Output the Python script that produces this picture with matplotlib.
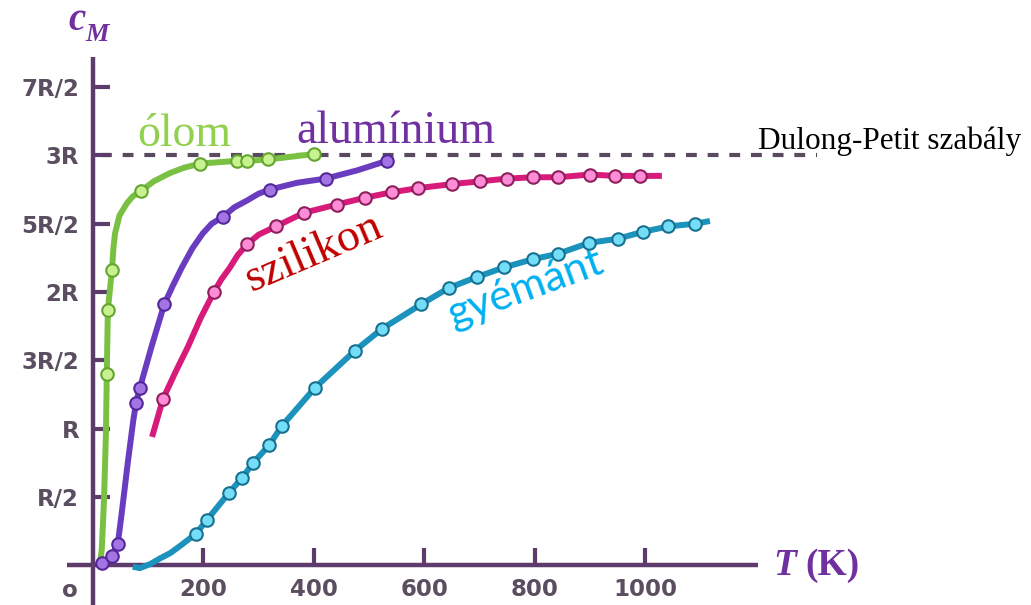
import matplotlib
matplotlib.use('Agg')
import matplotlib.pyplot as plt

# temperatures in K, molar heat capacity in units of R

# olom (lead)
lead_T = [13, 16, 20, 23.5, 25, 27, 31, 34.4, 37, 40, 48, 61.5, 72, 87, 110, 139, 165, 194, 260, 278, 317, 400]
lead_C = [0.02, 0.12, 0.48, 0.97, 1.40, 1.87, 2.03, 2.16, 2.32, 2.43, 2.56, 2.65, 2.70, 2.74, 2.81, 2.87, 2.91, 2.94, 2.96, 2.96, 2.97, 3.01]
lead_pt_T = [25, 27, 34.4, 87, 194, 260, 278, 317, 400]
lead_pt_C = [1.40, 1.87, 2.16, 2.74, 2.94, 2.96, 2.96, 2.97, 3.01]

# aluminium
al_T = [7, 16, 34, 45, 52, 63, 73, 78, 85, 106, 129, 145, 161, 180, 199, 215, 235, 256, 279, 300, 320, 370, 421, 478, 532]
al_C = [0.01, 0.02, 0.07, 0.16, 0.38, 0.75, 1.06, 1.19, 1.30, 1.60, 1.91, 2.05, 2.18, 2.32, 2.43, 2.50, 2.55, 2.62, 2.67, 2.72, 2.75, 2.80, 2.83, 2.89, 2.96]
al_pt_T = [16, 34, 45, 78, 85, 129, 235, 320, 421, 532]
al_pt_C = [0.02, 0.07, 0.16, 1.19, 1.30, 1.91, 2.55, 2.75, 2.83, 2.96]

# szilikon (silicon)
si_T = [107, 127, 150, 172, 195, 219, 232, 248, 262, 279, 300, 331, 382, 441, 492, 541, 588, 650, 700, 749, 796, 842, 900, 945, 990, 1030]
si_C = [0.94, 1.22, 1.42, 1.60, 1.81, 2.00, 2.09, 2.18, 2.27, 2.35, 2.42, 2.48, 2.58, 2.64, 2.69, 2.73, 2.76, 2.79, 2.81, 2.83, 2.84, 2.84, 2.86, 2.85, 2.85, 2.85]
si_pt_T = [127, 219, 279, 331, 382, 441, 492, 541, 588, 650, 700, 749, 796, 842, 900, 945, 990]
si_pt_C = [1.22, 2.00, 2.35, 2.48, 2.58, 2.64, 2.69, 2.73, 2.76, 2.79, 2.81, 2.83, 2.84, 2.84, 2.86, 2.85, 2.85]

# gyemant (diamond)
dia_pt_T = [186, 206, 246, 270, 290, 319, 342, 402, 474, 523, 594, 644, 695, 744, 796, 842, 898, 950, 995, 1041, 1090]
dia_pt_C = [0.23, 0.33, 0.53, 0.64, 0.75, 0.88, 1.02, 1.30, 1.57, 1.73, 1.91, 2.03, 2.11, 2.18, 2.24, 2.28, 2.36, 2.39, 2.44, 2.48, 2.50]
dia_T = [72, 85, 104, 121, 140, 157] + dia_pt_T + [1117]
dia_C = [-0.01, -0.02, 0.01, 0.05, 0.09, 0.14] + dia_pt_C + [2.52]

y_ticks = [0.5, 1, 1.5, 2, 2.5, 3, 3.5]
y_labels = ['R/2', 'R', '3R/2', '2R', '5R/2', '3R', '7R/2']
x_ticks = [200, 400, 600, 800, 1000]

axis_col = '#5d3b6a'
tick_col = '#5a4e60'

fig = plt.figure(figsize=(10.31, 6.05), dpi=100)
ax = fig.add_axes([67/1031, 0.0, 691/1031, 548/605])
ax.set_xlim(-47, 1204)
ax.set_ylim(-0.29, 3.72)

for s in ['top', 'right']:
    ax.spines[s].set_visible(False)
ax.spines['left'].set_position(('data', 0))
ax.spines['bottom'].set_position(('data', 0))
for s in ['left', 'bottom']:
    ax.spines[s].set_color(axis_col)
    ax.spines[s].set_linewidth(3.2)
    ax.spines[s].set_capstyle('butt')

ax.set_yticks(y_ticks)
ax.set_yticklabels(y_labels)
ax.set_xticks(x_ticks)
ax.set_xticklabels([str(t) for t in x_ticks])
ax.tick_params(direction='in', length=12, width=3, color=axis_col,
               labelcolor=tick_col, labelsize=16.5)
ax.tick_params(axis='y', pad=10)
ax.tick_params(axis='x', pad=9)
for lab in ax.get_xticklabels() + ax.get_yticklabels():
    lab.set_fontfamily('DejaVu Sans')
    lab.set_fontweight('bold')
ax.text(-42, -0.10, 'o', color=tick_col, fontsize=16.5, fontweight='bold',
        family='DejaVu Sans', ha='center', va='top')

# Dulong-Petit limit
ax.plot([15, 1310], [3, 3], color='#5a4a60', lw=3, dashes=(2.6, 2.6),
        clip_on=False, zorder=1)

def curve(T, C, pT, pC, lc, fc, ec):
    ax.plot(T, C, color=lc, lw=4.3, solid_capstyle='butt', solid_joinstyle='round',
            zorder=3, clip_on=False)
    ax.plot(pT, pC, 'o', ms=9, mfc=fc, mec=ec, mew=1.5, zorder=4, clip_on=False)

curve(dia_T, dia_C, dia_pt_T, dia_pt_C, '#1b93bd', '#74def8', '#17708f')
curve(si_T, si_C, si_pt_T, si_pt_C, '#d81b7a', '#ff8cd6', '#8c1f5c')
curve(al_T, al_C, al_pt_T, al_pt_C, '#6a3cc0', '#a274e4', '#55289a')
curve(lead_T, lead_C, lead_pt_T, lead_pt_C, '#7ac143', '#c8f290', '#64a530')

serif = 'Liberation Serif'
ax.text(80, 3.07, 'ólom', color='#92d050', fontsize=33, family=serif,
        ha='left', va='baseline', clip_on=False)
ax.text(369, 3.09, 'alumínium', color='#7030a0', fontsize=33, family=serif,
        ha='left', va='baseline', clip_on=False)
ax.text(286, 2.0, 'szilikon', color='#c00000', fontsize=33, family=serif,
        rotation=23, rotation_mode='anchor', ha='left', va='baseline')
ax.text(652, 1.74, 'gyémánt', color='#00b0f0', fontsize=31, family='Lato',
        rotation=20, rotation_mode='anchor', ha='left', va='baseline')
ax.text(1204, 3.05, 'Dulong-Petit szabály', color='black', fontsize=22.5,
        family=serif, ha='left', va='baseline', clip_on=False)

ax.text(1231, -0.07, 'T', color='#7030a0', fontsize=27, family=serif,
        fontweight='bold', fontstyle='italic', ha='left', va='baseline', clip_on=False)
ax.text(1289, -0.07, '(K)', color='#7030a0', fontsize=27, family=serif,
        fontweight='bold', ha='left', va='baseline', clip_on=False)
ax.text(-45, 3.92, 'c', color='#7030a0', fontsize=28, family=serif,
        fontweight='bold', fontstyle='italic', ha='left', va='baseline', clip_on=False)
ax.text(-13, 3.84, 'M', color='#7030a0', fontsize=19, family=serif,
        fontweight='bold', fontstyle='italic', ha='left', va='baseline', clip_on=False)

fig.savefig('out.png', dpi=100)
